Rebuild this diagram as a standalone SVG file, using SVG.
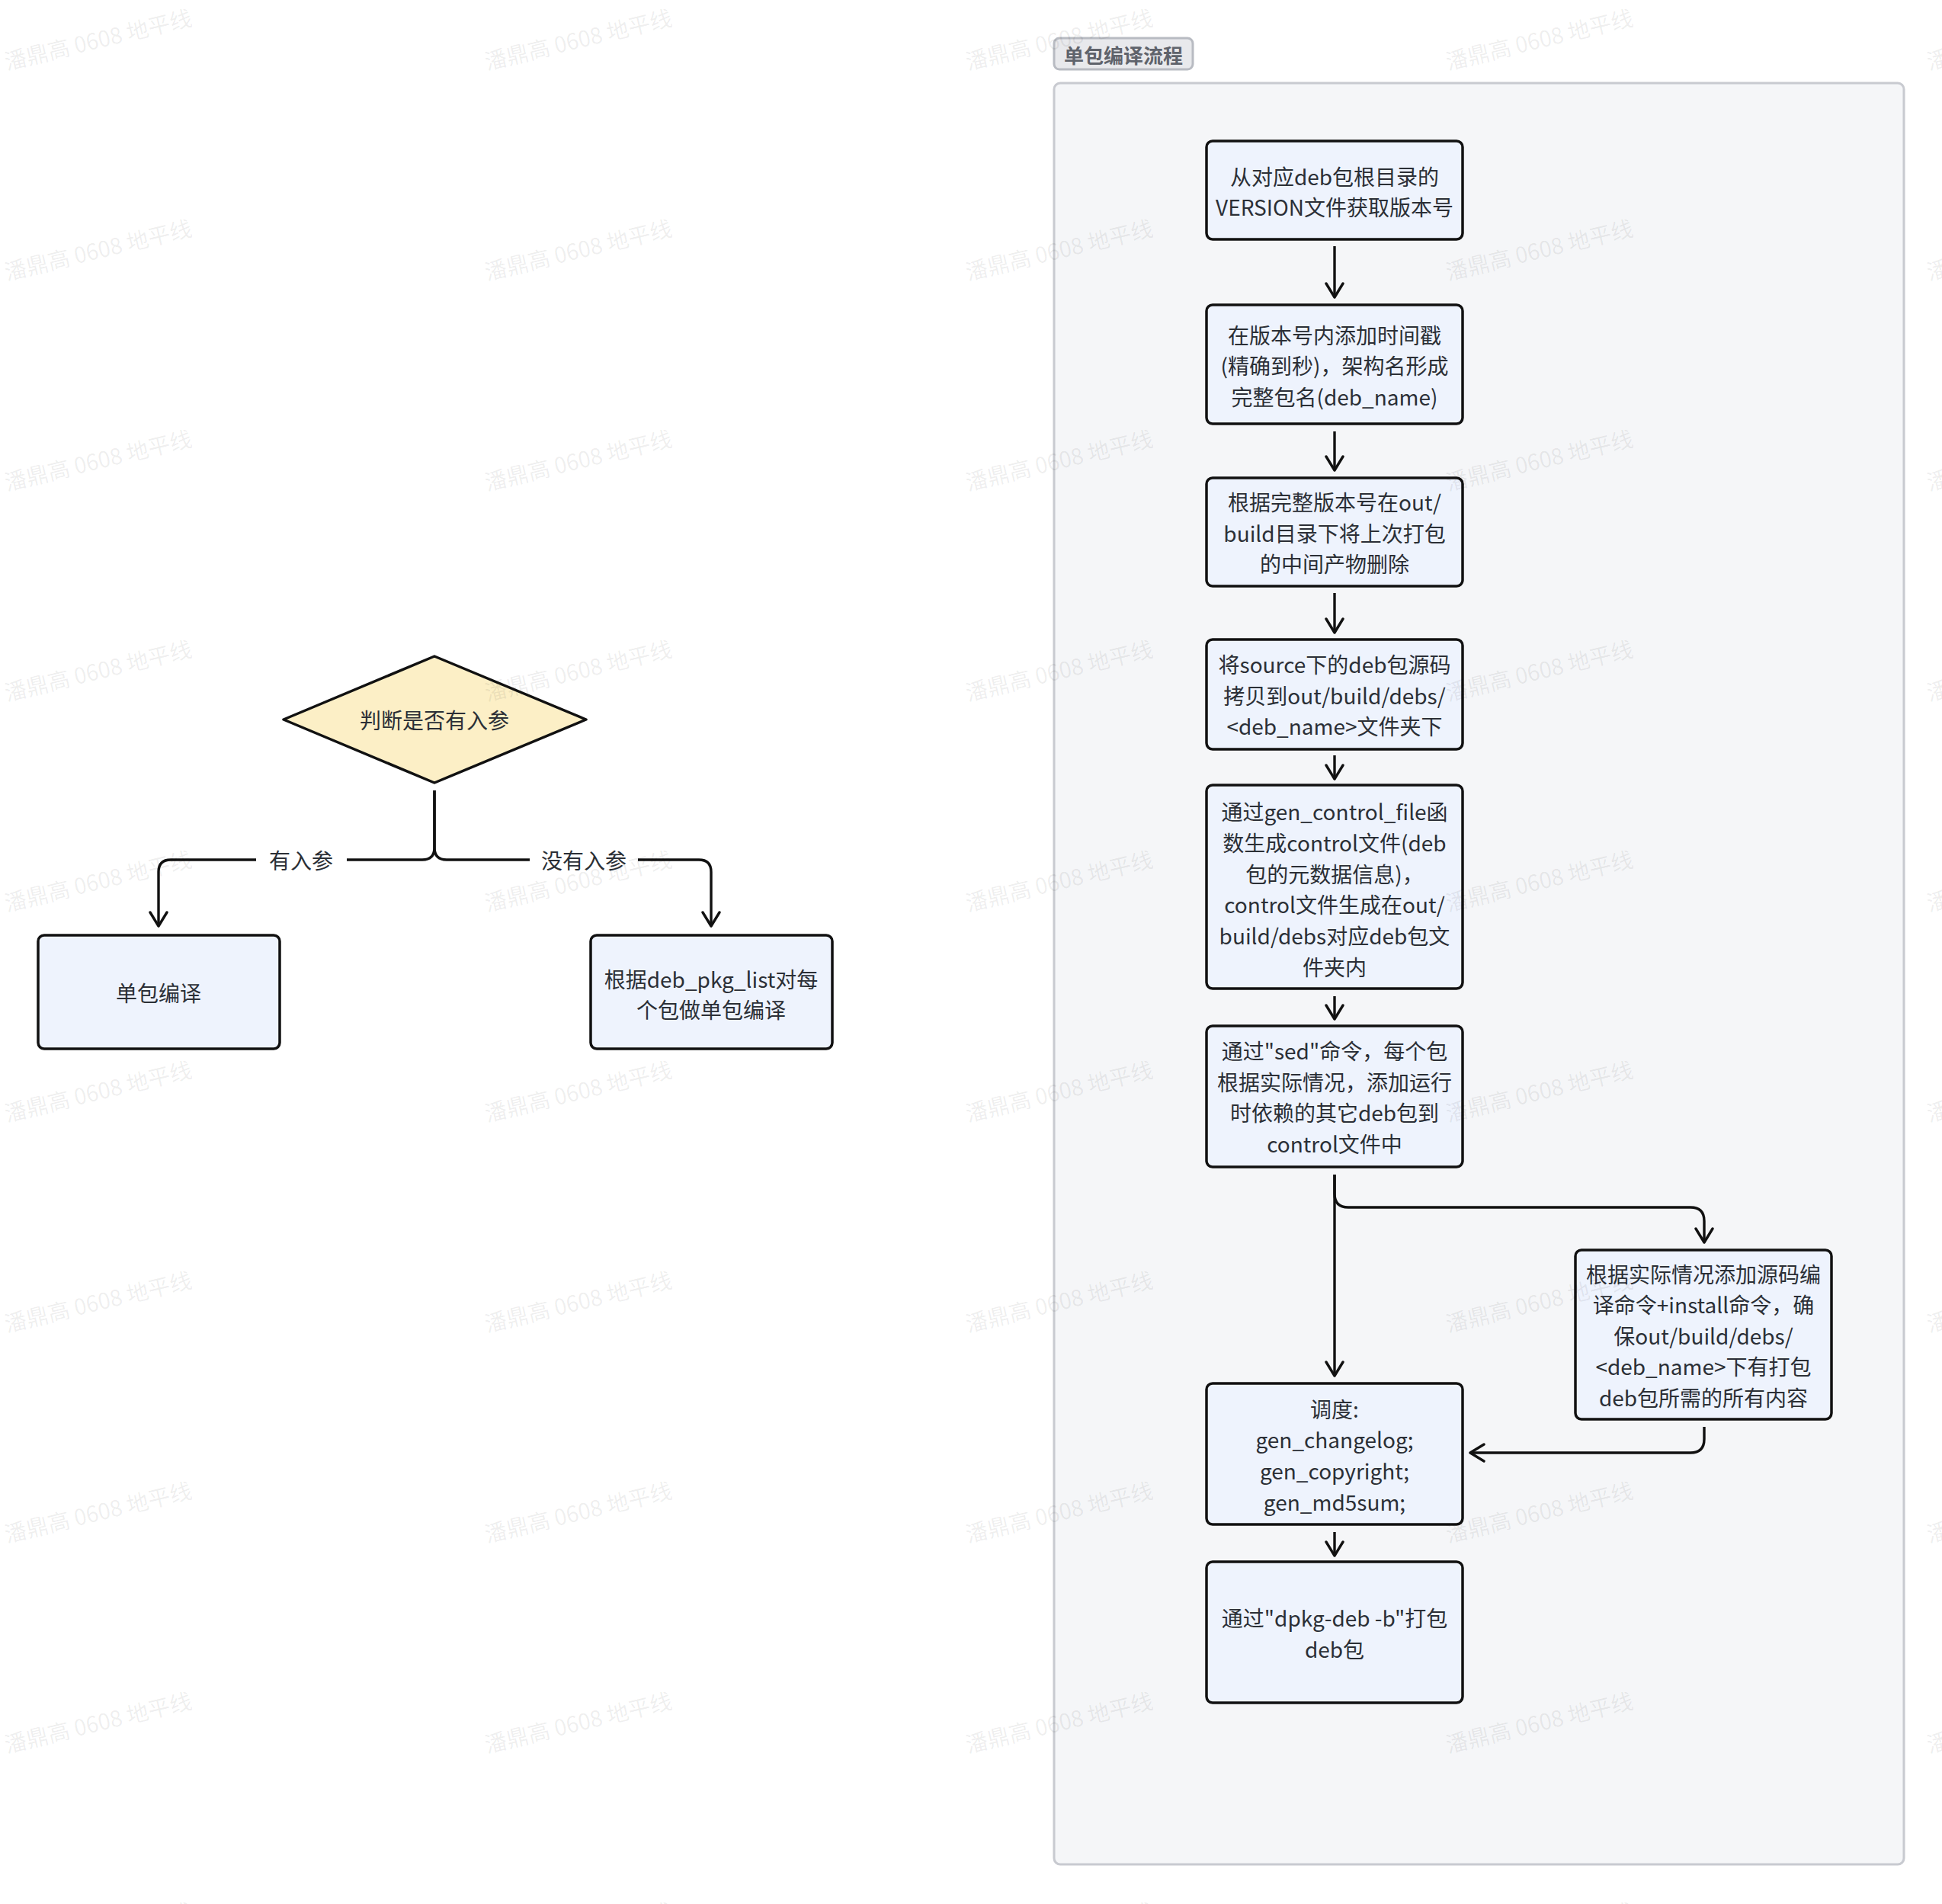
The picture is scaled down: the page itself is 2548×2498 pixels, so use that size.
<svg xmlns="http://www.w3.org/2000/svg" width="2548" height="2498" viewBox="0 0 2548 2498">
<defs>
<style>
.t{font-family:"Noto Sans CJK SC","Noto Sans",sans-serif;font-size:28px;fill:#2b2f36;text-anchor:middle;dominant-baseline:central}
.node{fill:#eef3fd;stroke:#111;stroke-width:3.5}
.dia{fill:#fcefc6;stroke:#111;stroke-width:3.5;stroke-linejoin:round}
.edge{fill:none;stroke:#111;stroke-width:3.4;stroke-linejoin:round}
.wm{font-family:"Noto Sans CJK SC","Noto Sans",sans-serif;font-size:29px;fill:#000;fill-opacity:0.07}
</style>
<marker id="arr" viewBox="0 0 22 26" refX="20" refY="13" markerWidth="22" markerHeight="26" markerUnits="userSpaceOnUse" orient="auto">
<path d="M2,2 L20,13 L2,24" fill="none" stroke="#111" stroke-width="3.4" stroke-linecap="round" stroke-linejoin="round"/>
</marker>
</defs>
<rect width="2548" height="2498" fill="#ffffff"/>

<g id="cluster">
<rect x="1383" y="109" width="1115" height="2337" rx="8" fill="#f5f6f8" stroke="#c8cad0" stroke-width="3"/>
<rect x="1383" y="50" width="182" height="41" rx="7" fill="#e8e9ec" stroke="#b8bbc2" stroke-width="3"/>
<text x="1474" y="71" class="t" style="font-weight:bold;fill:#5f636b;font-size:26px">单包编译流程</text>
</g>

<g id="connectors">
<path class="edge" d="M570,1037 V1112 Q570,1128 554,1128 H224 Q208,1128 208,1144 V1215" marker-end="url(#arr)"/>
<path class="edge" d="M570,1037 V1112 Q570,1128 586,1128 H917 Q933,1128 933,1144 V1215" marker-end="url(#arr)"/>
<rect x="336" y="1108" width="119" height="40" fill="#ffffff"/>
<text x="395" y="1128" class="t">有入参</text>
<rect x="695" y="1108" width="142" height="40" fill="#ffffff"/>
<text x="766" y="1128" class="t">没有入参</text>

<path class="edge" d="M1751,323 V390" marker-end="url(#arr)"/>
<path class="edge" d="M1751,566 V617" marker-end="url(#arr)"/>
<path class="edge" d="M1751,778 V830" marker-end="url(#arr)"/>
<path class="edge" d="M1751,991 V1022" marker-end="url(#arr)"/>
<path class="edge" d="M1751,1307 V1337" marker-end="url(#arr)"/>
<path class="edge" d="M1751,1541 V1805" marker-end="url(#arr)"/>
<path class="edge" d="M1751,1541 V1566 Q1751,1584 1769,1584 H2218 Q2236,1584 2236,1602 V1630" marker-end="url(#arr)"/>
<path class="edge" d="M2236,1872 V1888 Q2236,1906 2218,1906 H1929" marker-end="url(#arr)"/>
<path class="edge" d="M1751,2010 V2041" marker-end="url(#arr)"/>
</g>

<g id="decision">
<polygon class="dia" points="570,861 769,944 570,1027 372,944"/>
<text x="570" y="944" class="t">判断是否有入参</text>
</g>

<g id="single">
<rect class="node" x="50" y="1227" width="317" height="149" rx="8"/>
<text x="208" y="1302" class="t">单包编译</text>
</g>

<g id="multi">
<rect class="node" x="775" y="1227" width="317" height="149" rx="8"/>
<text x="933" y="1284" class="t">根据deb_pkg_list对每</text>
<text x="933" y="1324" class="t">个包做单包编译</text>
</g>

<g id="n1">
<rect class="node" x="1583" y="185" width="336" height="129" rx="8"/>
<text x="1751" y="231" class="t">从对应deb包根目录的</text>
<text x="1751" y="271" class="t">VERSION文件获取版本号</text>
</g>

<g id="n2">
<rect class="node" x="1583" y="400" width="336" height="156" rx="8"/>
<text x="1751" y="439" class="t">在版本号内添加时间戳</text>
<text x="1751" y="479" class="t">(精确到秒)，架构名形成</text>
<text x="1751" y="520" class="t">完整包名(deb_name)</text>
</g>

<g id="n3">
<rect class="node" x="1583" y="627" width="336" height="142" rx="8"/>
<text x="1751" y="658" class="t">根据完整版本号在out/</text>
<text x="1751" y="699" class="t">build目录下将上次打包</text>
<text x="1751" y="739" class="t">的中间产物删除</text>
</g>

<g id="n4">
<rect class="node" x="1583" y="839" width="336" height="144" rx="8"/>
<text x="1751" y="871" class="t">将source下的deb包源码</text>
<text x="1751" y="912" class="t">拷贝到out/build/debs/</text>
<text x="1751" y="952" class="t">&lt;deb_name&gt;文件夹下</text>
</g>

<g id="n5">
<rect class="node" x="1583" y="1030" width="336" height="267" rx="8"/>
<text x="1751" y="1064" class="t">通过gen_control_file函</text>
<text x="1751" y="1105" class="t">数生成control文件(deb</text>
<text x="1751" y="1146" class="t">包的元数据信息)，</text>
<text x="1751" y="1186" class="t">control文件生成在out/</text>
<text x="1751" y="1227" class="t">build/debs对应deb包文</text>
<text x="1751" y="1268" class="t">件夹内</text>
</g>

<g id="n6">
<rect class="node" x="1583" y="1346" width="336" height="185" rx="8"/>
<text x="1751" y="1378" class="t">通过"sed"命令，每个包</text>
<text x="1751" y="1419" class="t">根据实际情况，添加运行</text>
<text x="1751" y="1459" class="t">时依赖的其它deb包到</text>
<text x="1751" y="1500" class="t">control文件中</text>
</g>

<g id="n7">
<rect class="node" x="2067" y="1640" width="336" height="222" rx="8"/>
<text x="2235" y="1671" class="t">根据实际情况添加源码编</text>
<text x="2235" y="1711" class="t">译命令+install命令，确</text>
<text x="2235" y="1752" class="t">保out/build/debs/</text>
<text x="2235" y="1792" class="t">&lt;deb_name&gt;下有打包</text>
<text x="2235" y="1833" class="t">deb包所需的所有内容</text>
</g>

<g id="n8">
<rect class="node" x="1583" y="1815" width="336" height="185" rx="8"/>
<text x="1751" y="1848" class="t">调度:</text>
<text x="1751" y="1888" class="t">gen_changelog;</text>
<text x="1751" y="1929" class="t">gen_copyright;</text>
<text x="1751" y="1970" class="t">gen_md5sum;</text>
</g>

<g id="n9">
<rect class="node" x="1583" y="2049" width="336" height="185" rx="8"/>
<text x="1751" y="2122" class="t">通过"dpkg-deb -b"打包</text>
<text x="1751" y="2163" class="t">deb包</text>
</g>

<g id="watermark">
<text class="wm" transform="translate(9,92) rotate(-13.5)">潘鼎高 0608 地平线</text>
<text class="wm" transform="translate(639,92) rotate(-13.5)">潘鼎高 0608 地平线</text>
<text class="wm" transform="translate(1270,92) rotate(-13.5)">潘鼎高 0608 地平线</text>
<text class="wm" transform="translate(1900,92) rotate(-13.5)">潘鼎高 0608 地平线</text>
<text class="wm" transform="translate(2531,92) rotate(-13.5)">潘鼎高 0608 地平线</text>
<text class="wm" transform="translate(9,368) rotate(-13.5)">潘鼎高 0608 地平线</text>
<text class="wm" transform="translate(639,368) rotate(-13.5)">潘鼎高 0608 地平线</text>
<text class="wm" transform="translate(1270,368) rotate(-13.5)">潘鼎高 0608 地平线</text>
<text class="wm" transform="translate(1900,368) rotate(-13.5)">潘鼎高 0608 地平线</text>
<text class="wm" transform="translate(2531,368) rotate(-13.5)">潘鼎高 0608 地平线</text>
<text class="wm" transform="translate(9,644) rotate(-13.5)">潘鼎高 0608 地平线</text>
<text class="wm" transform="translate(639,644) rotate(-13.5)">潘鼎高 0608 地平线</text>
<text class="wm" transform="translate(1270,644) rotate(-13.5)">潘鼎高 0608 地平线</text>
<text class="wm" transform="translate(1900,644) rotate(-13.5)">潘鼎高 0608 地平线</text>
<text class="wm" transform="translate(2531,644) rotate(-13.5)">潘鼎高 0608 地平线</text>
<text class="wm" transform="translate(9,920) rotate(-13.5)">潘鼎高 0608 地平线</text>
<text class="wm" transform="translate(639,920) rotate(-13.5)">潘鼎高 0608 地平线</text>
<text class="wm" transform="translate(1270,920) rotate(-13.5)">潘鼎高 0608 地平线</text>
<text class="wm" transform="translate(1900,920) rotate(-13.5)">潘鼎高 0608 地平线</text>
<text class="wm" transform="translate(2531,920) rotate(-13.5)">潘鼎高 0608 地平线</text>
<text class="wm" transform="translate(9,1196) rotate(-13.5)">潘鼎高 0608 地平线</text>
<text class="wm" transform="translate(639,1196) rotate(-13.5)">潘鼎高 0608 地平线</text>
<text class="wm" transform="translate(1270,1196) rotate(-13.5)">潘鼎高 0608 地平线</text>
<text class="wm" transform="translate(1900,1196) rotate(-13.5)">潘鼎高 0608 地平线</text>
<text class="wm" transform="translate(2531,1196) rotate(-13.5)">潘鼎高 0608 地平线</text>
<text class="wm" transform="translate(9,1472) rotate(-13.5)">潘鼎高 0608 地平线</text>
<text class="wm" transform="translate(639,1472) rotate(-13.5)">潘鼎高 0608 地平线</text>
<text class="wm" transform="translate(1270,1472) rotate(-13.5)">潘鼎高 0608 地平线</text>
<text class="wm" transform="translate(1900,1472) rotate(-13.5)">潘鼎高 0608 地平线</text>
<text class="wm" transform="translate(2531,1472) rotate(-13.5)">潘鼎高 0608 地平线</text>
<text class="wm" transform="translate(9,1748) rotate(-13.5)">潘鼎高 0608 地平线</text>
<text class="wm" transform="translate(639,1748) rotate(-13.5)">潘鼎高 0608 地平线</text>
<text class="wm" transform="translate(1270,1748) rotate(-13.5)">潘鼎高 0608 地平线</text>
<text class="wm" transform="translate(1900,1748) rotate(-13.5)">潘鼎高 0608 地平线</text>
<text class="wm" transform="translate(2531,1748) rotate(-13.5)">潘鼎高 0608 地平线</text>
<text class="wm" transform="translate(9,2024) rotate(-13.5)">潘鼎高 0608 地平线</text>
<text class="wm" transform="translate(639,2024) rotate(-13.5)">潘鼎高 0608 地平线</text>
<text class="wm" transform="translate(1270,2024) rotate(-13.5)">潘鼎高 0608 地平线</text>
<text class="wm" transform="translate(1900,2024) rotate(-13.5)">潘鼎高 0608 地平线</text>
<text class="wm" transform="translate(2531,2024) rotate(-13.5)">潘鼎高 0608 地平线</text>
<text class="wm" transform="translate(9,2300) rotate(-13.5)">潘鼎高 0608 地平线</text>
<text class="wm" transform="translate(639,2300) rotate(-13.5)">潘鼎高 0608 地平线</text>
<text class="wm" transform="translate(1270,2300) rotate(-13.5)">潘鼎高 0608 地平线</text>
<text class="wm" transform="translate(1900,2300) rotate(-13.5)">潘鼎高 0608 地平线</text>
<text class="wm" transform="translate(2531,2300) rotate(-13.5)">潘鼎高 0608 地平线</text>
<text class="wm" transform="translate(9,2576) rotate(-13.5)">潘鼎高 0608 地平线</text>
<text class="wm" transform="translate(639,2576) rotate(-13.5)">潘鼎高 0608 地平线</text>
<text class="wm" transform="translate(1270,2576) rotate(-13.5)">潘鼎高 0608 地平线</text>
<text class="wm" transform="translate(1900,2576) rotate(-13.5)">潘鼎高 0608 地平线</text>
<text class="wm" transform="translate(2531,2576) rotate(-13.5)">潘鼎高 0608 地平线</text>
</g>
</svg>
